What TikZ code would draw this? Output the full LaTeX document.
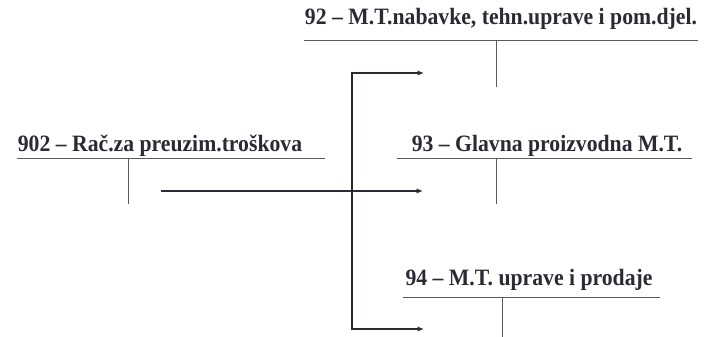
\documentclass[tikz,border=0pt]{standalone}
\usepackage{fontspec}
\usepackage{graphicx}
\setmainfont{Liberation Serif}
\usetikzlibrary{arrows.meta}
\definecolor{txt}{HTML}{2A2A35}
\definecolor{acc}{HTML}{5A5A60}
\newcommand{\acctitle}[1]{\scalebox{1}[1.08]{#1}}
\begin{document}
\begin{tikzpicture}[x=1pt,y=-1pt,
  title/.style={inner sep=0pt,anchor=base,text=txt,font=\fontsize{21.7}{24}\selectfont\bfseries},
  accline/.style={draw=acc,line width=1pt},
  flow/.style={draw=txt,line width=2pt,-{Latex[length=6.5pt,width=5.5pt]}}]
\useasboundingbox (0,0) rectangle (716,337);
% accounts
\node[title] (t902) at (160,152) {\acctitle{902 – Rač.za preuzim.troškova}};
\coordinate (l902a) at (17,159); \coordinate (l902b) at (325,159);
\coordinate (v902a) at (128,159); \coordinate (v902b) at (128,204);
\draw[accline] (l902a) -- (l902b); \draw[accline] (v902a) -- (v902b);

\node[title] (t92) at (501,25) {\acctitle{92 – M.T.nabavke, tehn.uprave i pom.djel.}};
\coordinate (l92a) at (304,41); \coordinate (l92b) at (698,41);
\coordinate (v92a) at (496,41); \coordinate (v92b) at (496,87);
\draw[accline] (l92a) -- (l92b); \draw[accline] (v92a) -- (v92b);

\node[title] (t93) at (547,152) {\acctitle{93 – Glavna proizvodna M.T.}};
\coordinate (l93a) at (397,159); \coordinate (l93b) at (692,159);
\coordinate (v93a) at (496,159); \coordinate (v93b) at (496,204);
\draw[accline] (l93a) -- (l93b); \draw[accline] (v93a) -- (v93b);

\node[title] (t94) at (529,285) {\acctitle{94 – M.T. uprave i prodaje}};
\coordinate (l94a) at (403,297); \coordinate (l94b) at (660,297);
\coordinate (v94a) at (502,297); \coordinate (v94b) at (502,337);
\draw[accline] (l94a) -- (l94b); \draw[accline] (v94a) -- (v94b);

% flows
\coordinate (s) at (161,191);
\coordinate (e93) at (423,191);
\coordinate (top) at (352,73);
\coordinate (e92) at (424,73);
\coordinate (bot) at (352,329);
\coordinate (e94) at (424,329);
\draw[flow] (s) -- (e93);
\draw[flow,line cap=rect] (bot) -- (top) -- (e92);
\draw[flow] (bot) -- (e94);
\end{tikzpicture}
\end{document}
